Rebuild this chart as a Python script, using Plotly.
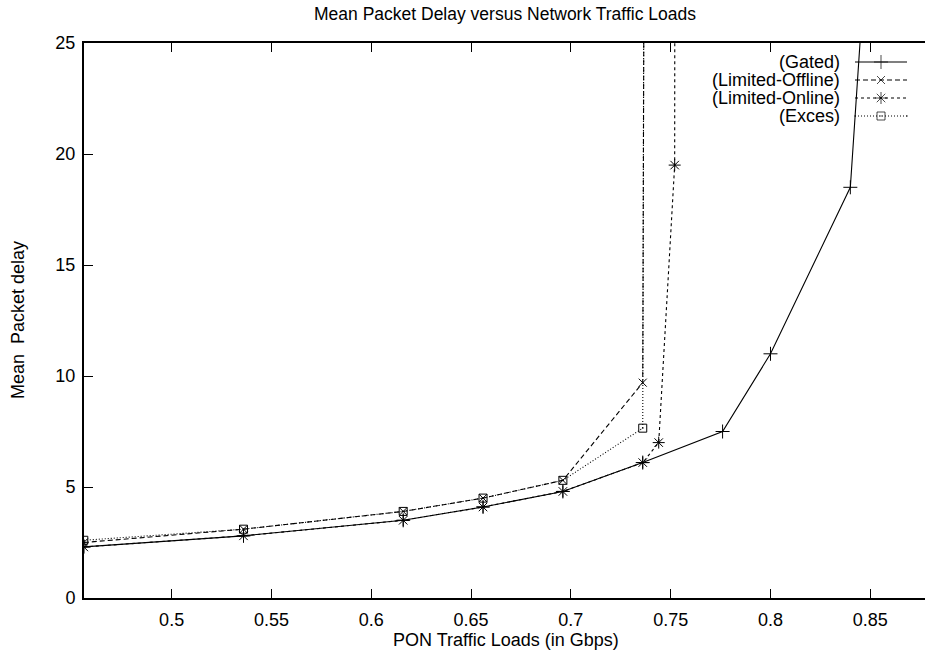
import plotly.graph_objects as go

# ---- data ----
load_gated = [0.456, 0.536, 0.616, 0.656, 0.696, 0.736, 0.776, 0.800, 0.840, 0.856]
delay_gated = [2.3, 2.8, 3.5, 4.1, 4.8, 6.1, 7.5, 11.0, 18.5, 40.0]

load_offline = [0.456, 0.536, 0.616, 0.656, 0.696, 0.736, 0.776]
delay_offline = [2.5, 3.1, 3.9, 4.5, 5.3, 9.7, 1200.0]

load_online = [0.456, 0.536, 0.616, 0.656, 0.696, 0.736, 0.744, 0.752, 0.776]
delay_online = [2.3, 2.8, 3.5, 4.1, 4.8, 6.1, 7.0, 19.5, 3000.0]

load_exces = [0.456, 0.536, 0.616, 0.656, 0.696, 0.736, 0.776]
delay_exces = [2.6, 3.1, 3.9, 4.5, 5.3, 7.65, 1500.0]

series_names = ["(Gated)", "(Limited-Offline)", "(Limited-Online)", "(Exces)"]
x_ticks = [0.5, 0.55, 0.6, 0.65, 0.7, 0.75, 0.8, 0.85]
y_ticks = [0, 5, 10, 15, 20, 25]

# ---- styles ----
FONT = "Liberation Sans, Arial, Helvetica, sans-serif"
FS = 18
styles = [
    dict(dash="solid", symbol="cross-thin", size=10),
    dict(dash="5px,3px", symbol="x-thin", size=8),
    dict(dash="3px,3px", symbol="asterisk-open", size=10),
    dict(dash="1px,2px", symbol="square-open-dot", size=8),
]
data = [(load_gated, delay_gated), (load_offline, delay_offline),
        (load_online, delay_online), (load_exces, delay_exces)]

W, H = 925, 657
# plot area in pixels
PL, PR, PT, PB = 84, 925, 43, 598
L, R, T, B = PL, W - PR, PT, H - PB


def px(xs):
    return (xs - PL) / (PR - PL)


def py(ys):
    return (PB - ys) / (PB - PT)


fig = go.Figure()
for (xs, ys), st, name in zip(data, styles, series_names):
    fig.add_trace(go.Scatter(
        x=xs, y=ys, mode="lines+markers", name=name, showlegend=False,
        line=dict(color="black", width=1.1, dash=st["dash"]),
        marker=dict(symbol=st["symbol"], size=st["size"], color="black",
                    line=dict(color="black", width=1)),
    ))

# ---- custom legend (text left, sample right, like gnuplot) on a pixel overlay axis ----
leg_text_right = 842
leg_x0, leg_xm, leg_x1 = 855, 881, 907
leg_rows = [62, 80, 98, 116]
for st, name, yrow in zip(styles, series_names, leg_rows):
    fig.add_trace(go.Scatter(
        x=[leg_x0, leg_xm, leg_x1], y=[yrow, yrow, yrow], xaxis="x2", yaxis="y2",
        mode="lines+markers", showlegend=False, hoverinfo="skip",
        line=dict(color="black", width=1.1, dash=st["dash"]),
        marker=dict(symbol=st["symbol"], size=[0, st["size"], 0], color="black",
                    line=dict(color="black", width=1)),
    ))
    fig.add_annotation(x=px(leg_text_right), y=py(yrow), xref="paper", yref="paper",
                       text=name, showarrow=False, xanchor="right", yanchor="middle",
                       font=dict(family=FONT, size=FS, color="black"))

# titles
fig.add_annotation(x=px(505), y=py(14), xref="paper", yref="paper",
                   text="Mean Packet Delay versus Network Traffic Loads",
                   showarrow=False, xanchor="center", yanchor="middle",
                   font=dict(family=FONT, size=17.5, color="black"))
fig.add_annotation(x=px(506), y=py(640), xref="paper", yref="paper",
                   text="PON Traffic Loads (in Gbps)",
                   showarrow=False, xanchor="center", yanchor="middle",
                   font=dict(family=FONT, size=FS, color="black"))
fig.add_annotation(x=px(18), y=py(320), xref="paper", yref="paper",
                   text="Mean\u00a0 Packet delay",
                   showarrow=False, xanchor="center", yanchor="middle", textangle=-90,
                   font=dict(family=FONT, size=FS, color="black"))

fig.update_layout(
    width=W, height=H,
    margin=dict(l=L, r=R, t=T, b=B, pad=0),
    paper_bgcolor="white", plot_bgcolor="white",
    showlegend=False,
    hovermode=False,
    font=dict(family=FONT, size=FS, color="black"),
    xaxis=dict(range=[0.4561, 0.8774], tickvals=x_ticks, ticktext=[str(v) for v in x_ticks],
               ticks="inside", ticklen=9, tickwidth=1, tickcolor="black",
               showline=True, linecolor="black", linewidth=2, mirror="ticks",
               showgrid=False, zeroline=False, ticklabelstandoff=4),
    yaxis=dict(range=[0, 25], tickvals=y_ticks, ticks="inside", ticklen=9, tickwidth=1,
               tickcolor="black", showline=True, linecolor="black", linewidth=2,
               showgrid=False, zeroline=False, ticklabelstandoff=3),
    xaxis2=dict(overlaying="x", range=[PL, PR], visible=False, fixedrange=True),
    yaxis2=dict(overlaying="y", range=[PB, PT], visible=False, fixedrange=True),
)

fig.write_html(
    "out.html",
    config={"displayModeBar": False, "staticPlot": True},
    post_script="document.body.style.margin='0';document.body.style.overflow='hidden';",
)
